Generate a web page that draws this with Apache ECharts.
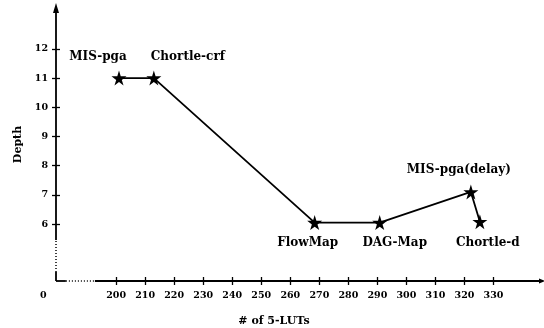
<!DOCTYPE html>
<html>
<head>
<meta charset="utf-8">
<script src="https://cdn.jsdelivr.net/npm/echarts@6/dist/echarts.min.js"></script>
<style>html,body{margin:0;padding:0;background:#fff;}#c{width:544px;height:328px;}</style>
</head>
<body>
<div id="c"></div>
<script>
const names = ['MIS-pga', 'Chortle-crf', 'FlowMap', 'DAG-Map', 'MIS-pga(delay)', 'Chortle-d'];
const luts = [201, 213, 268.4, 290.8, 322.2, 325.3];
const depth = [11, 11, 6.05, 6.05, 7.1, 6.08];
const xTicks = [200, 210, 220, 230, 240, 250, 260, 270, 280, 290, 300, 310, 320, 330];
const yTicks = [6, 7, 8, 9, 10, 11, 12];

const X_MIN = 179.3, X_MAX = 346.7, Y_MIN = 4.05, Y_MAX = 13.4;
const FONT = 'DejaVu Serif';
const labelOffsets = {
  'MIS-pga': [-21, -21], 'Chortle-crf': [34, -21], 'FlowMap': [-7, 20],
  'DAG-Map': [15, 20], 'MIS-pga(delay)': [-12, -22], 'Chortle-d': [8, 21]
};
const STAR = 'path://M50,0 L61,35 L98,35 L68,57 L79,91 L50,70 L21,91 L32,57 L2,35 L39,35 Z';

const chart = echarts.init(document.getElementById('c'), null, {renderer: 'canvas'});
const axisText = {color: '#000', fontFamily: FONT, fontWeight: 'bold', fontSize: 9.5};
const tickStyle = {color: '#000', width: 1.3};

function xAx(inside, main) {
  return {
    type: 'value', min: X_MIN, max: X_MAX, position: 'bottom',
    axisLine: {show: false}, splitLine: {show: false},
    axisTick: {show: true, inside: inside, length: 4, lineStyle: tickStyle, customValues: xTicks},
    axisLabel: {show: main, margin: 10, customValues: xTicks, ...axisText},
    name: main ? '# of 5-LUTs' : '', nameLocation: 'middle', nameGap: 35,
    nameTextStyle: {color: '#000', fontFamily: FONT, fontWeight: 'bold', fontSize: 11, padding: [0, 50, 0, 0]}
  };
}
function yAx(inside, main) {
  return {
    type: 'value', min: Y_MIN, max: Y_MAX, position: 'left',
    axisLine: {show: false}, splitLine: {show: false},
    axisTick: {show: true, inside: inside, length: 4, lineStyle: tickStyle, customValues: yTicks},
    axisLabel: {show: main, margin: 8, customValues: yTicks, ...axisText},
    name: main ? 'Depth' : '', nameLocation: 'middle', nameGap: 32, nameRotate: 90,
    nameTextStyle: {color: '#000', fontFamily: FONT, fontWeight: 'bold', fontSize: 11}
  };
}

const solid = {color: '#000', width: 1.8, type: 'solid'};
const dotted = {color: '#000', width: 1.5, type: [1, 2]};

const option = {
  animation: false,
  backgroundColor: '#fff',
  grid: {left: 56, right: 2, top: 8, bottom: 47, outerBoundsMode: 'none', containLabel: false},
  xAxis: [xAx(false, true), xAx(true, false)],
  yAxis: [yAx(false, true), yAx(true, false)],
  graphic: [{type: 'text', left: 40, top: 291, style: {text: '0', fill: '#000', font: 'bold 9.5px "DejaVu Serif"'}}],
  series: [{
    type: 'line', clip: false,
    data: names.map((n, i) => ({
      value: [luts[i], depth[i]], name: n,
      label: {show: true, position: 'inside', offset: labelOffsets[n], formatter: n,
        color: '#000', fontFamily: FONT, fontWeight: 'bold', fontSize: 12}
    })),
    symbol: STAR, symbolSize: 15,
    itemStyle: {color: '#000'},
    lineStyle: {color: '#000', width: 1.8},
    markLine: {
      silent: true, animation: false, symbol: 'none', label: {show: false},
      data: [
        [{coord: [X_MIN, 5.45], lineStyle: solid}, {coord: [X_MIN, Y_MAX], symbol: 'triangle', symbolSize: [6, 10]}],
        [{coord: [X_MIN, 4.36], lineStyle: dotted}, {coord: [X_MIN, 5.45]}],
        [{coord: [X_MIN, Y_MIN], lineStyle: solid}, {coord: [X_MIN, 4.36]}],
        [{coord: [X_MIN, Y_MIN], lineStyle: solid}, {coord: [182.7, Y_MIN]}],
        [{coord: [182.7, Y_MIN], lineStyle: dotted}, {coord: [192.7, Y_MIN]}],
        [{coord: [192.7, Y_MIN], lineStyle: solid}, {coord: [X_MAX, Y_MIN], symbol: 'triangle', symbolSize: [5, 6]}]
      ]
    }
  }]
};
chart.setOption(option);
</script>
</body>
</html>
